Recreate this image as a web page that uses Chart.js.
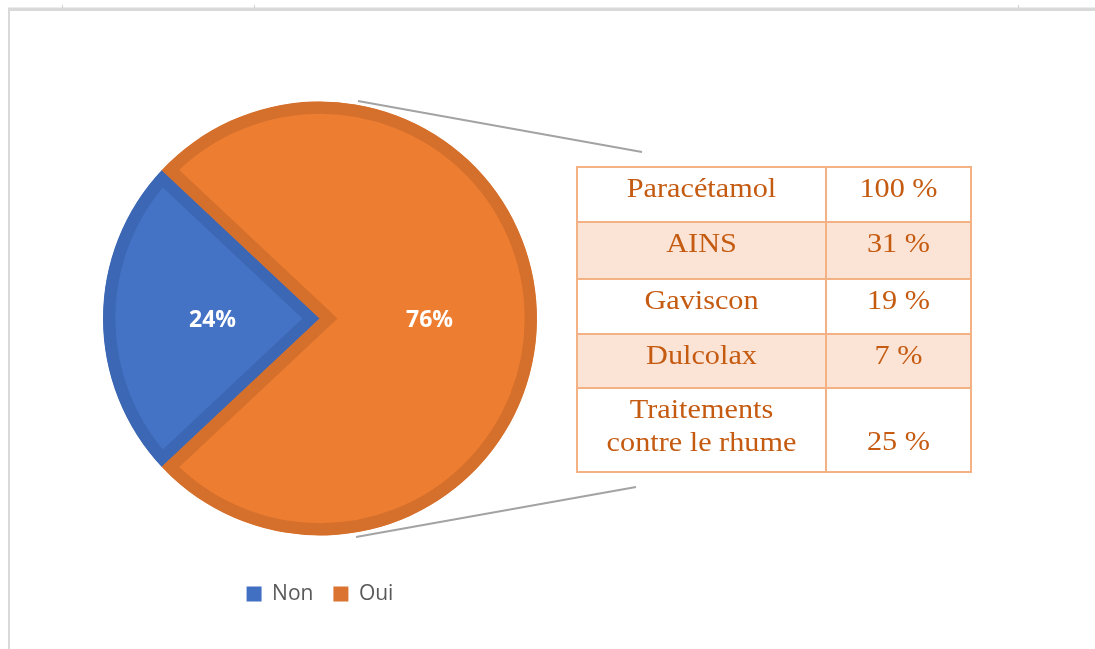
<!DOCTYPE html>
<html>
<head>
<meta charset="utf-8">
<script src="https://cdn.jsdelivr.net/npm/chart.js@4.4.1/dist/chart.umd.min.js"></script>
<style>
  html, body { margin: 0; padding: 0; background: #fff; }
  #wrap { position: relative; width: 1095px; height: 649px; }
</style>
</head>
<body>
<div id="wrap"><canvas id="pie"></canvas></div>
<script>
// Réponses Oui / Non
const answers = ['Non', 'Oui'];
const shares = [24, 76];

// Détail des traitements (part des "Oui")
const drugs = ['Paracétamol', 'AINS', 'Gaviscon', 'Dulcolax', 'Traitements\ncontre le rhume'];
const drugShares = [100, 31, 19, 7, 25];

const fills = ['#4472C4', '#ED7D31'];
const edges = ['#3C67B4', '#D5702C'];
const keys = ['#4170C2', '#DA7430'];

// table geometry
const table = { left: 577, mid: 826, right: 971, rows: [167, 222, 279, 334, 388, 472] };

function wideText(ctx, txt, cx, y, sx) {
    ctx.save();
    ctx.translate(cx, y);
    ctx.scale(sx, 1);
    ctx.fillText(txt, 0, 0);
    ctx.restore();
}

// sheet frame + connector lines, drawn under the pie
const backdrop = {
    id: 'backdrop',
    beforeDatasetsDraw(chart) {
        const ctx = chart.ctx;
        ctx.save();
        ctx.fillStyle = '#d9d9d9';
        ctx.fillRect(8, 7.5, 1087, 3.5);
        ctx.fillRect(8, 8, 2, 641);
        ctx.fillStyle = '#cfcfcf';
        [62, 254, 1018].forEach(x => ctx.fillRect(x, 5, 1, 3));

        ctx.strokeStyle = '#a3a3a3';
        ctx.lineWidth = 2;
        ctx.beginPath();
        ctx.moveTo(358, 101);
        ctx.lineTo(642, 152);
        ctx.moveTo(356, 537);
        ctx.lineTo(636, 487);
        ctx.stroke();
        ctx.restore();
    }
};

// percentage labels on slices
const sliceLabels = {
    id: 'sliceLabels',
    afterDatasetsDraw(chart) {
        const ctx = chart.ctx;
        const meta = chart.getDatasetMeta(0);
        ctx.save();
        ctx.fillStyle = '#ffffff';
        ctx.font = 'bold 23px "Open Sans"';
        ctx.textAlign = 'center';
        ctx.textBaseline = 'middle';
        meta.data.forEach((arc, i) => {
            const p = arc.getCenterPoint();
            ctx.fillText(shares[i] + '%', p.x + 1, p.y + 2);
        });
        ctx.restore();
    }
};

// breakdown table on the right
const breakdown = {
    id: 'breakdown',
    afterDraw(chart) {
        const ctx = chart.ctx;
        const r = table.rows;
        ctx.save();
        ctx.fillStyle = '#ffffff';
        ctx.fillRect(table.left, r[0], table.right - table.left, r[r.length - 1] - r[0]);
        ctx.fillStyle = '#FBE4D5';
        for (let i = 1; i < drugs.length; i += 2) {
            ctx.fillRect(table.left, r[i], table.right - table.left, r[i + 1] - r[i]);
        }

        ctx.strokeStyle = '#F4B183';
        ctx.lineWidth = 2;
        ctx.beginPath();
        r.forEach(y => { ctx.moveTo(table.left, y); ctx.lineTo(table.right, y); });
        [table.left, table.mid, table.right].forEach(x => {
            ctx.moveTo(x, r[0] - 1);
            ctx.lineTo(x, r[r.length - 1] + 1);
        });
        ctx.stroke();

        ctx.fillStyle = '#C55A11';
        ctx.font = '28px "Liberation Serif"';
        ctx.textAlign = 'center';
        ctx.textBaseline = 'alphabetic';
        const c1 = (table.left + table.mid) / 2;
        const c2 = (table.mid + table.right) / 2;
        drugs.forEach((name, i) => {
            const lines = name.split('\n');
            lines.forEach((ln, j) => wideText(ctx, ln, c1, r[i] + 30 + j * 33, 1.08));
            const yv = r[i] + 30 + (lines.length - 1) * 32;
            wideText(ctx, drugShares[i] + ' %', c2, yv, 1.08);
        });
        ctx.restore();
    }
};

new Chart(document.getElementById('pie'), {
    type: 'pie',
    data: {
        labels: answers,
        datasets: [{
            data: shares,
            backgroundColor: fills,
            borderColor: edges,
            borderWidth: 12,
            borderAlign: 'inner',
            borderJoinStyle: 'miter',
            offset: 0,
            hoverOffset: 0
        }]
    },
    options: {
        responsive: true,
        maintainAspectRatio: false,
        animation: false,
        events: [],
        rotation: 226.8,
        layout: {
            padding: { left: 103, right: 558, top: 73.5, bottom: 34.5 }
        },
        plugins: {
            tooltip: { enabled: false },
            legend: {
                position: 'bottom',
                labels: {
                    boxWidth: 15,
                    boxHeight: 15,
                    padding: 20,
                    color: '#595959',
                    font: { family: '"Open Sans"', size: 21 },
                    generateLabels(chart) {
                        return chart.data.labels.map((text, i) => ({
                            text,
                            fillStyle: keys[i],
                            strokeStyle: keys[i],
                            lineWidth: 0,
                            fontColor: '#595959',
                            hidden: false,
                            index: i
                        }));
                    }
                }
            }
        }
    },
    plugins: [backdrop, sliceLabels, breakdown]
});
</script>
</body>
</html>
